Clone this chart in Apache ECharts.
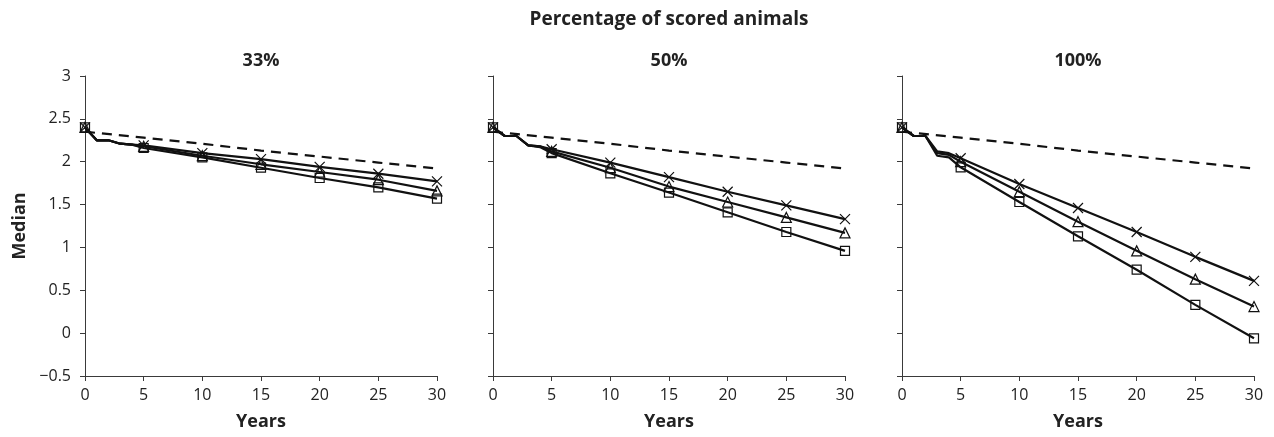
<!DOCTYPE html>
<html>
<head>
<meta charset="utf-8">
<script src="https://cdn.jsdelivr.net/npm/echarts@6/dist/echarts.min.js"></script>
<style>html,body{margin:0;padding:0;background:#fff;}#chart{width:1274px;height:437px;}</style>
</head>
<body>
<div id="chart"></div>
<script>
var mainTitle = 'Percentage of scored animals';
var panelTitles = ['33%', '50%', '100%'];
var years = [0, 1, 2, 3, 4, 5, 10, 15, 20, 25, 30];
var dashedYears = [0, 5, 10, 15, 20, 25, 30];
var yTicks = [-0.5, 0, 0.5, 1, 1.5, 2, 2.5, 3];

// 33%
var p1Cross    = [2.40, 2.25, 2.25, 2.21, 2.20, 2.19, 2.10, 2.03, 1.94, 1.86, 1.77];
var p1Triangle = [2.40, 2.25, 2.25, 2.21, 2.20, 2.18, 2.07, 1.97, 1.88, 1.79, 1.66];
var p1Square   = [2.40, 2.25, 2.25, 2.21, 2.20, 2.16, 2.05, 1.93, 1.81, 1.70, 1.57];
var p1Dashed   = [2.35, 2.28, 2.21, 2.13, 2.06, 1.99, 1.92];
// 50%
var p2Cross    = [2.40, 2.30, 2.30, 2.19, 2.18, 2.145, 1.99, 1.82, 1.65, 1.49, 1.33];
var p2Triangle = [2.40, 2.30, 2.30, 2.19, 2.18, 2.12, 1.93, 1.71, 1.53, 1.35, 1.17];
var p2Square   = [2.40, 2.30, 2.30, 2.19, 2.17, 2.10, 1.865, 1.64, 1.41, 1.18, 0.96];
var p2Dashed   = [2.35, 2.28, 2.21, 2.13, 2.06, 1.99, 1.92];
// 100%
var p3Cross    = [2.40, 2.30, 2.30, 2.12, 2.10, 2.04, 1.74, 1.46, 1.18, 0.89, 0.61];
var p3Triangle = [2.40, 2.30, 2.30, 2.10, 2.08, 2.00, 1.65, 1.30, 0.96, 0.63, 0.31];
var p3Square   = [2.40, 2.30, 2.30, 2.07, 2.05, 1.935, 1.53, 1.13, 0.74, 0.33, -0.06];
var p3Dashed   = [2.35, 2.28, 2.21, 2.13, 2.06, 1.99, 1.92];

var panels = [
  {cross: p1Cross, tri: p1Triangle, sq: p1Square, dash: p1Dashed},
  {cross: p2Cross, tri: p2Triangle, sq: p2Square, dash: p2Dashed},
  {cross: p3Cross, tri: p3Triangle, sq: p3Square, dash: p3Dashed}
];

var gridLefts = [85, 493, 902];
var gridWidth = 352;
var gridTop = 76, gridHeight = 300;
var FONT = '"Open Sans", sans-serif';
var TXT = '#222';
var AX = '#3a3a3a';

function pairs(xs, ys) { return xs.map(function (x, i) { return [x, ys[i]]; }); }
function markerFn(sym) {
  return function (v) { return (v[0] % 5 === 0) ? sym : 'none'; };
}
var crossPath = 'path://M0,0L10,10M10,0L0,10';

var grids = [], xAxes = [], yAxes = [], series = [], graphics = [];
gridLefts.forEach(function (left, i) {
  grids.push({left: left, top: gridTop, width: gridWidth, height: gridHeight});
  xAxes.push({
    type: 'value', gridIndex: i, min: 0, max: 30, interval: 5,
    name: 'Years', nameLocation: 'middle', nameGap: 37,
    nameTextStyle: {fontFamily: FONT, fontSize: 18, fontWeight: 'bold', color: TXT},
    axisLine: {show: true, onZero: false, lineStyle: {color: AX, width: 1}},
    axisTick: {show: true, length: 5, lineStyle: {color: AX}},
    axisLabel: {fontFamily: FONT, fontSize: 16, color: TXT, margin: 11},
    splitLine: {show: false}
  });
  yAxes.push({
    type: 'value', gridIndex: i, min: -0.5, max: 3, interval: 0.5,
    name: i === 0 ? 'Median' : '', nameLocation: 'middle', nameGap: 56,
    nameTextStyle: {fontFamily: FONT, fontSize: 18, fontWeight: 'bold', color: TXT},
    axisLine: {show: true, lineStyle: {color: AX, width: 1}},
    axisTick: {show: true, length: 5, lineStyle: {color: AX}},
    axisLabel: {show: i === 0, fontFamily: FONT, fontSize: 16, color: TXT, margin: 14,
      formatter: function (v) { return String(v).replace('-', '\u2212'); }},
    splitLine: {show: false}
  });
  var p = panels[i];
  var common = {
    type: 'line', xAxisIndex: i, yAxisIndex: i, showAllSymbol: true,
    lineStyle: {color: '#111', width: 2.2}, animation: false, z: 3
  };
  series.push(Object.assign({}, common, {
    name: 'dashed', data: pairs(dashedYears, p.dash), symbol: 'none',
    lineStyle: {color: '#111', width: 2.2, type: [10, 7]}, z: 2
  }));
  series.push(Object.assign({}, common, {
    name: 'cross', data: pairs(years, p.cross), symbol: markerFn(crossPath), symbolSize: 10,
    itemStyle: {color: 'rgba(255,255,255,0)', borderColor: '#111', borderWidth: 1.2}
  }));
  series.push(Object.assign({}, common, {
    name: 'triangle', data: pairs(years, p.tri), symbol: markerFn('triangle'), symbolSize: 10,
    itemStyle: {color: 'rgba(255,255,255,0)', borderColor: '#111', borderWidth: 1.2}
  }));
  series.push(Object.assign({}, common, {
    name: 'square', data: pairs(years, p.sq), symbol: markerFn('rect'), symbolSize: 9,
    itemStyle: {color: 'rgba(255,255,255,0)', borderColor: '#111', borderWidth: 1.2}
  }));
  graphics.push({
    type: 'text', x: left + gridWidth / 2, y: 61,
    style: {text: panelTitles[i], font: 'bold 18px ' + FONT, fill: TXT, align: 'center', verticalAlign: 'middle'}
  });
});
graphics.push({
  type: 'text', x: gridLefts[1] + gridWidth / 2, y: 20,
  style: {text: mainTitle, font: 'bold 19px ' + FONT, fill: TXT, align: 'center', verticalAlign: 'middle'}
});

var chart = echarts.init(document.getElementById('chart'), null, {renderer: 'canvas'});
chart.setOption({
  backgroundColor: '#fff',
  animation: false,
  grid: grids, xAxis: xAxes, yAxis: yAxes, series: series, graphic: graphics
});
</script>
</body>
</html>
